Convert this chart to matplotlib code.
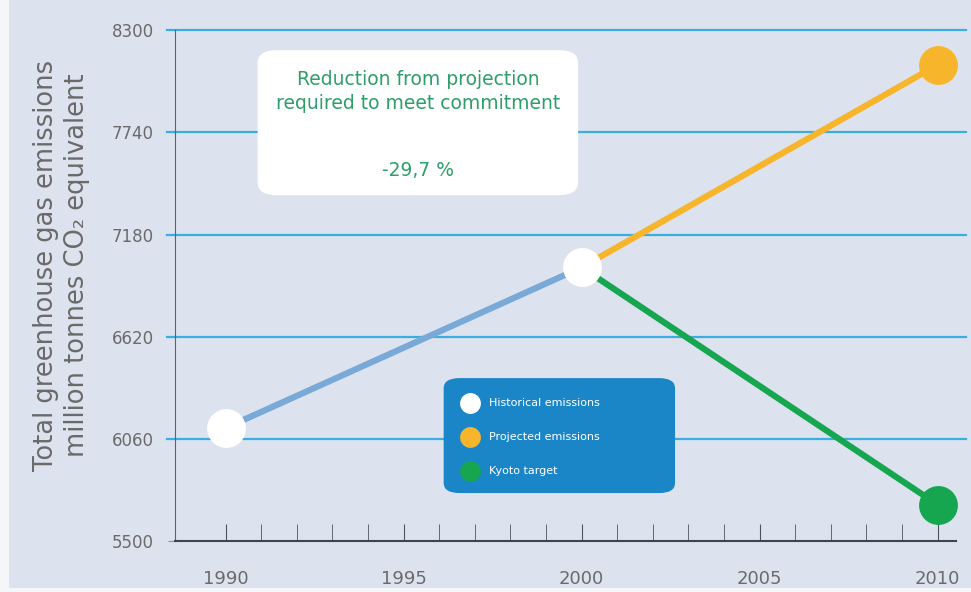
import matplotlib.pyplot as plt
from matplotlib.patches import FancyBboxPatch, Rectangle
from matplotlib.lines import Line2D

# emissions, million tonnes CO2 equivalent
hist_years = [1990, 2000]
hist_values = [6120, 7000]
proj_years = [2000, 2010]
proj_values = [7000, 8110]
kyoto_years = [2000, 2010]
kyoto_values = [7000, 5700]

y_ticks = [5500, 6060, 6620, 7180, 7740, 8300]
x_ticks = [1990, 1995, 2000, 2005, 2010]
reduction = "-29,7 %"

bg = "#dde3ee"
grid_col = "#3aaede"
blue_line = "#79a9d6"
orange = "#f7b52c"
green = "#16a650"
text_green = "#2e9e6a"
legend_blue = "#1a86c8"
gray = "#6a6a6a"

fig = plt.figure(figsize=(9.71, 5.92), dpi=100, facecolor="#f4f6f9")
fig.add_artist(Rectangle((9 / 971, 4 / 592), 1, 1, transform=fig.transFigure,
                         fc=bg, ec="none", zorder=-10))
ax = fig.add_axes([0.180, 0.086, 0.805, 0.863], facecolor=bg)

ax.set_xlim(1988.57, 2010.53)
ax.set_ylim(5500, 8300)

for v in y_ticks[1:]:
    ax.axhline(v, color=grid_col, lw=1.6, zorder=1, clip_on=False, xmin=-0.01, xmax=1.012)

ax.plot(hist_years, hist_values, color=blue_line, lw=4.5, solid_capstyle="round", zorder=2)
ax.plot(proj_years, proj_values, color=orange, lw=4.5, solid_capstyle="round", zorder=2)
ax.plot(kyoto_years, kyoto_values, color=green, lw=4.5, solid_capstyle="round", zorder=2)

ax.plot(hist_years, hist_values, "o", ms=28, color="white", mec="none", zorder=4, clip_on=False)
ax.plot(proj_years[-1], proj_values[-1], "o", ms=28, color=orange, mec="none", zorder=4, clip_on=False)
ax.plot(kyoto_years[-1], kyoto_values[-1], "o", ms=28, color=green, mec="none", zorder=4, clip_on=False)

for s in ["top", "right"]:
    ax.spines[s].set_visible(False)
ax.spines["left"].set_color("#5a6470")
ax.spines["bottom"].set_color("#3c4550")
ax.spines["bottom"].set_linewidth(1.5)

ax.set_yticks(y_ticks)
ax.set_xticks(x_ticks)
ax.set_xticks(range(1990, 2011), minor=True)
ax.tick_params(axis="x", which="both", direction="in", length=12, color="#4a5560",
               labelsize=13, labelcolor=gray, pad=21)
ax.tick_params(axis="y", length=5, color=grid_col, labelsize=12, labelcolor=gray, pad=10)
for lbl in ax.get_xticklabels() + ax.get_yticklabels():
    lbl.set_family("Liberation Sans Narrow")

ax.set_ylabel("Total greenhouse gas emissions\nmillion tonnes CO₂ equivalent",
              fontsize=18.5, color=gray, linespacing=1.25)
ax.yaxis.set_label_coords(-0.109, 0.54)

# callout box with the required reduction
box = FancyBboxPatch((0.106, 0.677), 0.41, 0.284, boxstyle="round,pad=0.0,rounding_size=0.025",
                     transform=ax.transAxes, fc="white", ec="none", zorder=3)
ax.add_patch(box)
ax.text(0.311, 0.88, "Reduction from projection\nrequired to meet commitment",
        transform=ax.transAxes, ha="center", va="center", color=text_green,
        fontsize=13.5, linespacing=1.35, zorder=5)
ax.text(0.311, 0.726, reduction, transform=ax.transAxes, ha="center", va="center",
        color=text_green, fontsize=13.5, zorder=5)

# legend panel
leg = FancyBboxPatch((0.344, 0.094), 0.296, 0.225, boxstyle="round,pad=0.0,rounding_size=0.02",
                     transform=ax.transAxes, fc=legend_blue, ec="none", zorder=3)
ax.add_patch(leg)
entries = [("Historical emissions", "white"),
           ("Projected emissions", orange),
           ("Kyoto target", green)]
for i, (name, col) in enumerate(entries):
    yy = 0.270 - i * 0.066
    ax.add_line(Line2D([0.378], [yy], marker="o", ms=15, color=col, mec="none",
                       transform=ax.transAxes, zorder=5))
    ax.text(0.402, yy, name, transform=ax.transAxes, ha="left", va="center",
            color="white", fontsize=8, zorder=5, family="Liberation Sans Narrow")

fig.savefig("out.png", dpi=100, facecolor=fig.get_facecolor())
